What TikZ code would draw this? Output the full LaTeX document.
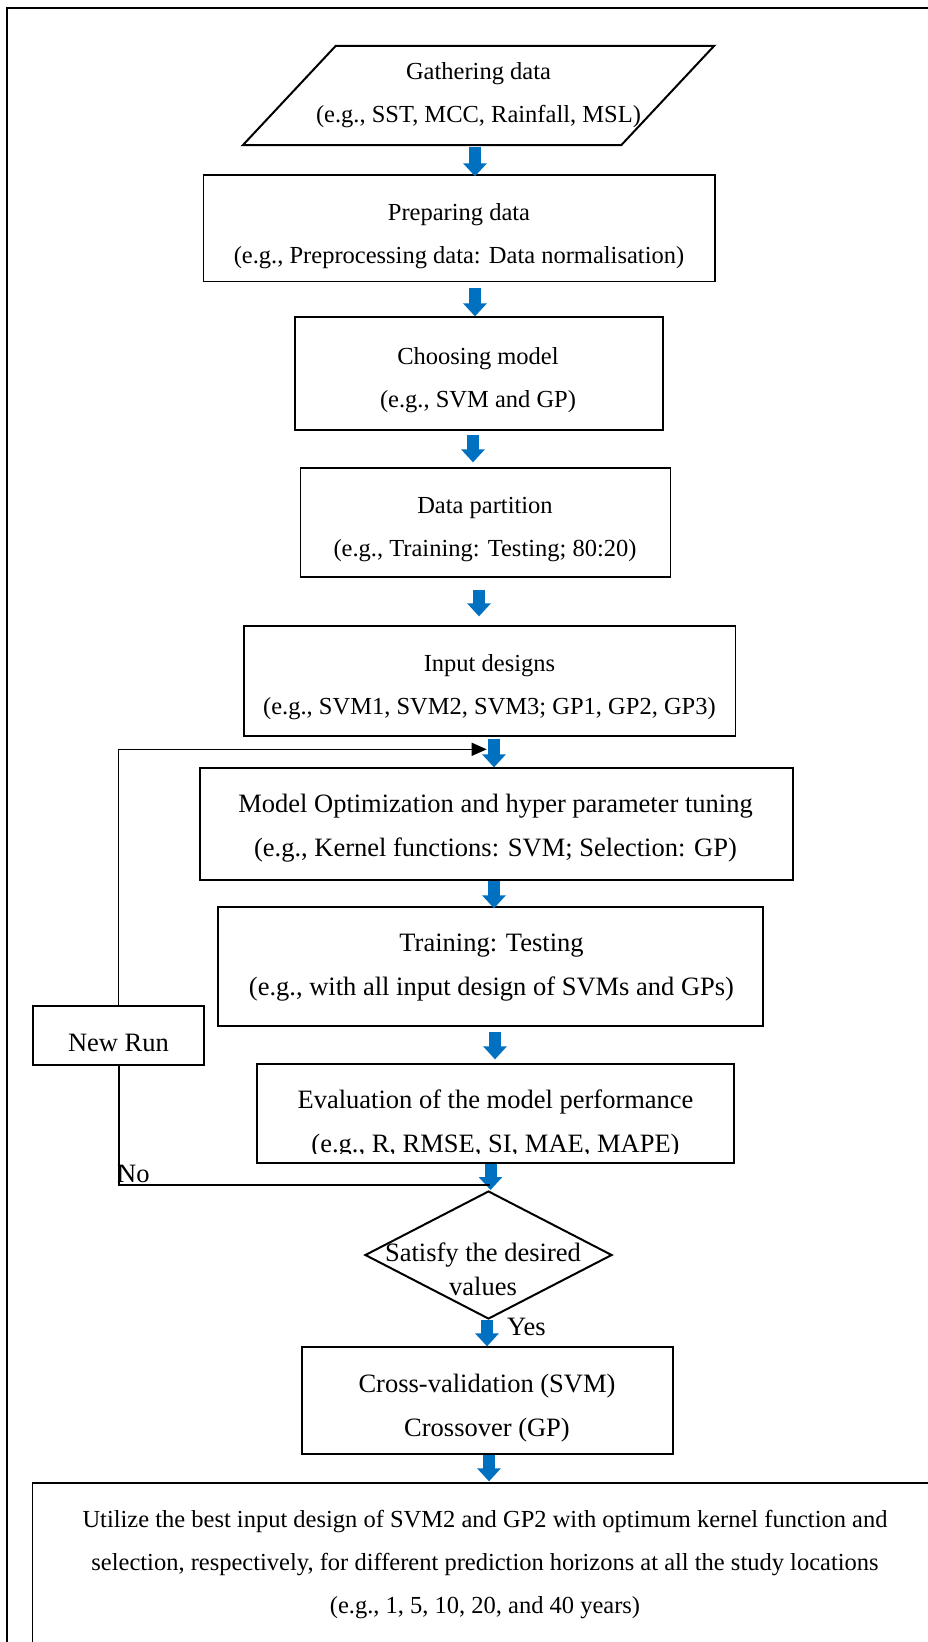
\documentclass[tikz,border=0pt]{standalone}
\usepackage{fontspec}
\setmainfont{Liberation Serif}
\usetikzlibrary{shapes.geometric,arrows.meta}
\definecolor{arrowblue}{RGB}{0,112,192}
\begin{document}
\begin{tikzpicture}[x=1pt,y=-1pt,
  box/.style={draw,line width=1.3pt,rectangle,inner sep=0pt},
  smalltxt/.style={align=center,inner sep=0pt,font=\fontsize{24.5}{43}\selectfont},
  largetxt/.style={align=center,inner sep=0pt,font=\fontsize{26.5}{44}\selectfont},
  flowarrow/.style={color=arrowblue,line width=12pt,-{Triangle[width=23pt,length=13pt]}},
  loopline/.style={line width=1.3pt},
]
\useasboundingbox (0,0) rectangle (928,1642);
\draw[line width=2pt] (7,8) rectangle (960,1680);

% input parallelogram
\node[smalltxt, minimum width=378pt, minimum height=99pt] (gather) at (478.5,95.5)
      {Gathering data\\(e.g., SST, MCC, Rainfall, MSL)};
\draw[line width=2pt, line join=miter]
  ([xshift=-46.5pt]gather.south west) -- ([xshift=46.5pt]gather.north west) --
  ([xshift=46.5pt]gather.north east) -- ([xshift=-46.5pt]gather.south east) -- cycle;

% boxes
\node[box, minimum width=511.4pt, minimum height=106.7pt] (prep) at (459.3,228.3) {};
\node[smalltxt] (prep-t) at (459,236) {Preparing data\\(e.g., Preprocessing data: Data normalisation)};

\node[box, minimum width=368pt, minimum height=113pt] (choose) at (479,373.5) {};
\node[smalltxt] (choose-t) at (478,380) {Choosing model\\(e.g., SVM and GP)};

\node[box, minimum width=370pt, minimum height=109pt] (part) at (485.5,522.5) {};
\node[smalltxt] (part-t) at (485,529.3) {Data partition\\(e.g., Training: Testing; 80:20)};

\node[box, minimum width=491.6pt, minimum height=110pt] (input) at (489.8,681) {};
\node[smalltxt] (input-t) at (489.5,687.6) {Input designs\\(e.g., SVM1, SVM2, SVM3; GP1, GP2, GP3)};

\node[box, minimum width=593pt, minimum height=112pt] (opt) at (496.5,824) {};
\node[largetxt] (opt-t) at (495.5,828.5) {Model Optimization and hyper parameter tuning\\(e.g., Kernel functions: SVM; Selection: GP)};

\node[box, minimum width=545pt, minimum height=119pt] (train) at (490.5,966.5) {};
\node[largetxt] (train-t) at (491.5,967.6) {Training: Testing\\(e.g., with all input design of SVMs and GPs)};

\node[box, minimum width=477pt, minimum height=99pt] (eval) at (495.5,1113.5) {};
\begin{scope}
  \clip (257,1064) rectangle (734,1153.5);
  \node[largetxt] (eval-t) at (495.5,1124.5) {Evaluation of the model performance\\(e.g., R, RMSE, SI, MAE, MAPE)};
\end{scope}

\node[box, minimum width=171pt, minimum height=59pt] (newrun) at (118.5,1035.5) {};
\node[largetxt, anchor=base] (newrun-t) at (118.5,1051) {New Run};

\node[diamond, draw, line width=2pt, minimum width=247pt, minimum height=128pt, inner sep=0pt] (dec) at (488.5,1255) {};
\node[largetxt, font=\fontsize{26.5}{34}\selectfont] (dec-t) at (483,1269) {Satisfy the desired\\values};

\node[box, minimum width=371pt, minimum height=107pt] (cross) at (487.5,1400.5) {};
\node[largetxt] (cross-t) at (487,1408) {Cross-validation (SVM)\\Crossover (GP)};

\node[box, minimum width=927pt, minimum height=198pt] (final) at (496,1582) {};
\node[smalltxt] (final-t) at (485,1564.3) {Utilize the best input design of SVM2 and GP2 with optimum kernel function and\\selection, respectively, for different prediction horizons at all the study locations\\(e.g., 1, 5, 10, 20, and 40 years)};

% labels
\node[largetxt, anchor=base west] (no) at (117,1182) {No};
\node[largetxt, anchor=base west] (yes) at (507,1335) {Yes};

% arrow x positions
\coordinate (ax1) at (475,0);
\coordinate (ax2) at (475,0);
\coordinate (ax3) at (473,0);
\coordinate (ax4) at (479,0);
\coordinate (ax5) at (494,0);
\coordinate (ax6) at (494,0);
\coordinate (ax7) at (495,0);
\coordinate (ax8) at (490.5,0);
\coordinate (ax9) at (487,0);
\coordinate (ax10) at (489,0);

\draw[flowarrow, shorten <=2pt, shorten >=-2pt] (gather.south -| ax1) -- (prep.north -| ax1);
\draw[flowarrow, shorten <=6pt] (prep.south -| ax2) -- (choose.north -| ax2);
\draw[flowarrow, shorten <=4pt, shorten >=5pt] (choose.south -| ax3) -- (part.north -| ax3);
\draw[flowarrow, shorten <=12pt, shorten >=9pt] (part.south -| ax4) -- (input.north -| ax4);
\draw[flowarrow, shorten <=2pt] (input.south -| ax5) -- (opt.north -| ax5);
\draw[flowarrow, shorten >=-2pt] (opt.south -| ax6) -- (train.north -| ax6);
\draw[flowarrow, shorten <=5pt, shorten >=4pt] (train.south -| ax7) -- (eval.north -| ax7);
\draw[flowarrow] (eval.south -| ax8) -- (dec.north -| ax8);
\draw[flowarrow] (dec.south -| ax9) -- (cross.north -| ax9);
\draw[flowarrow, shorten >=1pt] (cross.south -| ax10) -- (final.north -| ax10);

% loop back
\coordinate (fbtip) at (486.7,749.3);
\coordinate (noend) at (490,1185);
\draw[loopline, -{Triangle[width=13pt,length=15pt]}] (newrun.north) |- (fbtip);
\draw[line width=2pt] (newrun.south) |- (noend);
\end{tikzpicture}
\end{document}
